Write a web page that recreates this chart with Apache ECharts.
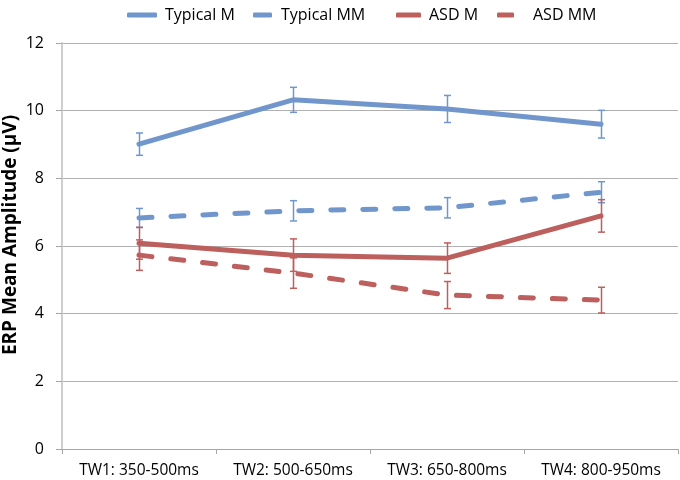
<!DOCTYPE html>
<html><head><meta charset="utf-8">
<script src="https://cdn.jsdelivr.net/npm/echarts@6/dist/echarts.min.js"></script>
<style>html,body{margin:0;padding:0;background:#fff}#c{width:680px;height:480px}</style>
</head><body><div id="c"></div>
<script>
const categories = ['TW1: 350-500ms','TW2: 500-650ms','TW3: 650-800ms','TW4: 800-950ms'];
const typicalM = [9.01, 10.32, 10.05, 9.6];
const typicalMErr = [0.33, 0.37, 0.4, 0.41];
const typicalMM = [6.83, 7.04, 7.13, 7.59];
const typicalMMErr = [0.28, 0.3, 0.3, 0.31];
const asdM = [6.08, 5.73, 5.64, 6.89];
const asdMErr = [0.47, 0.48, 0.45, 0.48];
const asdMM = [5.73, 5.2, 4.55, 4.4];
const asdMMErr = [0.45, 0.45, 0.4, 0.38];
const yTicks = [0, 2, 4, 6, 8, 10, 12];
const yTitle = 'ERP Mean Amplitude (μV)';

const BLUE = '#7196cb', RED = '#bc5f5d';
const FONT = 'Open Sans';

function lineSeries(name, data, color, dashed) {
  return {
    name, type: 'line', data, symbol: 'none', z: 3,
    lineStyle: { color, width: 5, type: dashed ? [13, 19] : 'solid', cap: 'round', join: 'round' },
    itemStyle: { color }
  };
}
function errSeries(vals, errs, color) {
  return {
    type: 'custom', z: 4, silent: true,
    data: vals.map((v, i) => [i, v - errs[i], v + errs[i]]),
    renderItem: function (params, api) {
      const lo = api.coord([api.value(0), api.value(1)]);
      const hi = api.coord([api.value(0), api.value(2)]);
      const x = Math.round(lo[0]) + 0.5, w = 3.5;
      const st = { stroke: color, lineWidth: 1.5 };
      return { type: 'group', children: [
        { type: 'line', shape: { x1: x, y1: lo[1], x2: x, y2: hi[1] }, style: st },
        { type: 'line', shape: { x1: x - w, y1: lo[1], x2: x + w, y2: lo[1] }, style: st },
        { type: 'line', shape: { x1: x - w, y1: hi[1], x2: x + w, y2: hi[1] }, style: st }
      ]};
    }
  };
}
function leg(name, left, w, pad) {
  return { data: [name], left, top: 2, icon: 'roundRect', itemWidth: w, itemHeight: 5, itemGap: 0,
    textStyle: { fontFamily: FONT, fontSize: 16, color: '#000', padding: [0, 0, 0, pad] } };
}

const chart = echarts.init(document.getElementById('c'));
chart.setOption({
  animation: false,
  textStyle: { fontFamily: FONT },
  legend: [leg('Typical M', 122, 30, 3), leg('Typical MM', 248, 19, 4), leg('ASD M', 391, 25, 3), leg('ASD MM', 492, 17, 14)],
  grid: { left: 62, right: 2, top: 43, bottom: 31 },
  xAxis: {
    type: 'category', data: categories, boundaryGap: true,
    axisLine: { lineStyle: { color: '#a6a6a6', width: 1 } },
    axisTick: { show: true, length: 5, interval: 0, lineStyle: { color: '#a6a6a6' } },
    axisLabel: { color: '#000', fontSize: 15.5, fontFamily: FONT, margin: 14, interval: 0 }
  },
  yAxis: {
    type: 'value', min: yTicks[0], max: yTicks[yTicks.length - 1], interval: 2,
    axisLine: { show: true, lineStyle: { color: '#cfcfcf', width: 2 } },
    axisTick: { show: true, length: 6, inside: false, lineStyle: { color: '#a6a6a6' } },
    axisLabel: { color: '#000', fontSize: 16, fontFamily: FONT, margin: 18 },
    splitLine: { lineStyle: { color: '#b0b0b0', width: 1 } }
  },
  graphic: [{
    type: 'text', x: 11, y: 235, rotation: Math.PI / 2,
    style: { text: yTitle, fontFamily: FONT, fontSize: 19, fontWeight: 'bold', fill: '#000',
      textAlign: 'center', textVerticalAlign: 'middle' }
  }],
  series: [
    lineSeries('Typical M', typicalM, BLUE, false),
    lineSeries('Typical MM', typicalMM, BLUE, true),
    lineSeries('ASD M', asdM, RED, false),
    lineSeries('ASD MM', asdMM, RED, true),
    errSeries(typicalM, typicalMErr, BLUE),
    errSeries(typicalMM, typicalMMErr, BLUE),
    errSeries(asdM, asdMErr, RED),
    errSeries(asdMM, asdMMErr, RED)
  ]
});
</script></body></html>
